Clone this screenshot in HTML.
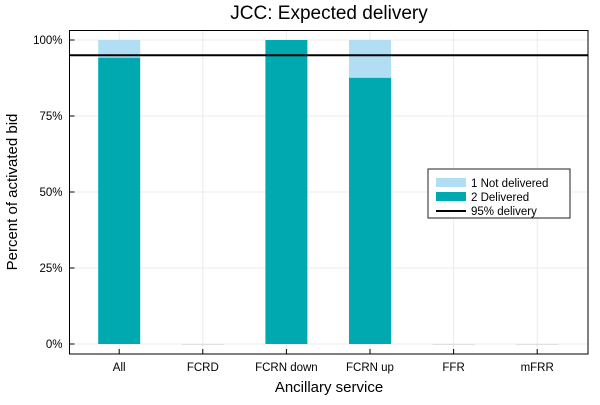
<!DOCTYPE html>
<html><head><meta charset="utf-8"><style>
body{margin:0;background:#fff;width:600px;height:400px;overflow:hidden}
text{font-family:"Liberation Sans","DejaVu Sans",sans-serif}
</style></head><body>
<svg id="chart" width="600" height="400">
<rect x="0" y="0" width="600" height="400" fill="#fff"/>
<text x="329" y="19" font-size="19" text-anchor="middle">JCC: Expected delivery</text>
<text x="329" y="392" font-size="15" text-anchor="middle">Ancillary service</text>
<text transform="translate(17,192) rotate(-90)" font-size="15" text-anchor="middle">Percent of activated bid</text>
<g id="grid"></g><g id="bars"></g><g id="axes"></g>
<g>
<rect x="428" y="169" width="142" height="49" fill="#fff" stroke="#222" stroke-width="1"/>
<rect x="436" y="178" width="30" height="9" fill="#b1def2"/>
<text x="471" y="187" font-size="11.5">1 Not delivered</text>
<rect x="436" y="192" width="30" height="9" fill="#00a9b0"/>
<text x="471" y="201" font-size="11.5">2 Delivered</text>
<line x1="436" y1="211" x2="466" y2="211" stroke="#000" stroke-width="2"/>
<text x="471" y="215" font-size="11.5">95% delivery</text>
</g>
</svg>
<script>
const categories=["All","FCRD","FCRN down","FCRN up","FFR","mFRR"];
const delivered=[94.2,0,100,87.6,0,0];
const notDelivered=[5.8,0,0,12.4,0,0];
const yTicks=[0,25,50,75,100];
const yTickLabels=["0%","25%","50%","75%","100%"];
const threshold=95;
const NS="http://www.w3.org/2000/svg";
const L=69.5,R=588,T=30.5,B=354;
const y=v=>344-v*3.04;
const x=i=>119.2+83.6*i;
const bw=42;
function mk(t,a,p){const e=document.createElementNS(NS,t);for(const k in a)e.setAttribute(k,a[k]);p.appendChild(e);return e;}
const g=document.getElementById('grid'),b=document.getElementById('bars'),ax=document.getElementById('axes');
yTicks.forEach((v,i)=>{
 const l=mk('line',{x1:L,x2:R,y1:y(v),y2:y(v),stroke:'#ebebeb','stroke-width':1},g);
 
 
 const tk=mk('line',{x1:L,x2:L+5,y1:y(v),y2:y(v),stroke:'#000'},ax);
 
 
 const t=mk('text',{x:L-7,y:y(v)+4,'font-size':11.5,'text-anchor':'end'},ax);t.textContent=yTickLabels[i];
 
 
});
categories.forEach((c,i)=>{
 const l=mk('line',{x1:x(i),x2:x(i),y1:T,y2:B,stroke:'#ebebeb'},g);
 
 
 const r1=mk('rect',{x:x(i)-bw/2,y:y(delivered[i]),width:bw,height:Math.max(y(0)-y(delivered[i]),0.6),fill:delivered[i]>0?'#00a9b0':'#ccc'},b);
 
 
 if(notDelivered[i]>0){
  const top=delivered[i]+notDelivered[i];
  const r2=mk('rect',{x:x(i)-bw/2,y:y(top),width:bw,height:y(delivered[i])-y(top),fill:'#b1def2'},b);
  
  
 }
 const tk=mk('line',{x1:x(i),x2:x(i),y1:B,y2:B-5,stroke:'#000'},ax);
 
 
 const t=mk('text',{x:x(i),y:B+17,'font-size':11.5,'text-anchor':'middle'},ax);t.textContent=c;
 
 
});
const th=mk('line',{x1:L,x2:R,y1:y(threshold),y2:y(threshold),stroke:'#000','stroke-width':2},ax);


const fr=mk('rect',{x:L,y:T,width:R-L,height:B-T,fill:'none',stroke:'#000','stroke-width':1},ax);


</script>
</body></html>
